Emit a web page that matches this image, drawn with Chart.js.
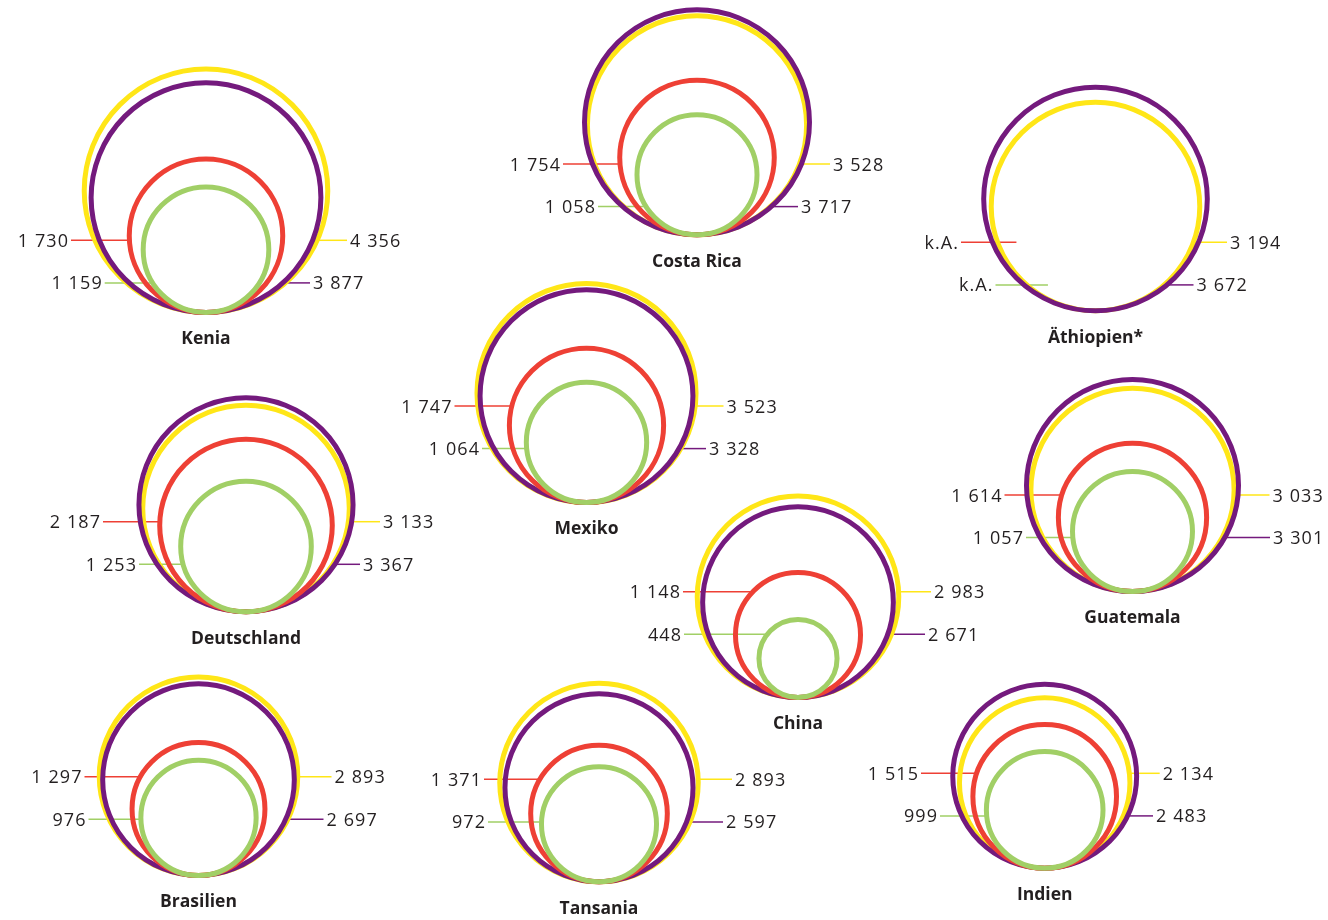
<!DOCTYPE html>
<html>
<head>
<meta charset="utf-8">
<script src="https://cdn.jsdelivr.net/npm/chart.js@4.4.1/dist/chart.umd.min.js"></script>
<style>
  html, body { margin: 0; padding: 0; background: #ffffff; }
  #wrap { width: 1328px; height: 920px; position: relative; }
</style>
</head>
<body>
<div id="wrap"><canvas id="chart"></canvas></div>
<script>
// ---------------- DATA ----------------
const countries = ['Kenia', 'Costa Rica', 'Äthiopien*', 'Mexiko', 'Deutschland',
                   'China', 'Guatemala', 'Brasilien', 'Tansania', 'Indien'];
const yellowValues = [4356, 3528, 3194, 3523, 3133, 2983, 3033, 2893, 2893, 2134];
const purpleValues = [3877, 3717, 3672, 3328, 3367, 2671, 3301, 2697, 2597, 2483];
const redValues    = [1730, 1754, null, 1747, 2187, 1148, 1614, 1297, 1371, 1515];
const greenValues  = [1159, 1058, null, 1064, 1253,  448, 1057,  976,  972,  999];
const missingLabel = 'k.A.';

// ---------------- LAYOUT (positions only) ----------------
const groupCenterX = [206, 697, 1095.5, 586.5, 246, 798, 1132.5, 198.5, 599, 1044.7];
const groupBottomY = [315, 237.3, 313.3, 505, 614.3, 700, 594, 878, 884.3, 870.7];
const labelRowY    = [240.3, 164, 242.3, 406, 521.7, 591.7, 495, 776.7, 779.3, 773.3];
const leftLabelX   = [[-138, -104.3], [-137, -102], [-137.5, -103], [-135, -107.5], [-146, -110],
                      [-118, -117], [-131, -109.5], [-117, -113], [-118, -114], [-126.7, -107.7]];
const rightLabelX  = [[144, 107], [136, 104], [134.5, 101], [140, 122.5], [137, 117],
                      [136, 130], [140, 140.5], [136, 128], [136, 127], [118, 111.3]];
const ROW_GAP = 42.6;
const NAME_OFFSET = 24.5;

// ---------------- STYLE ----------------
const COLORS = { yellow: '#FFE617', purple: '#741A7D', red: '#EE4035', green: '#A1CF66' };
const STROKE = 5;
const RADIUS_PER_SQRT = 1.845; // circle area proportional to value
const TEXT_COLOR = '#231F20';

function radiusFor(v) { return RADIUS_PER_SQRT * Math.sqrt(v); }
function fmt(v) {
  if (v === null || v === undefined) return missingLabel;
  return String(v).replace(/\B(?=(\d{3})+(?!\d))/g, ' ');
}

function bubblePoints(values) {
  const pts = [];
  values.forEach((v, i) => {
    if (v === null) return;
    const r = radiusFor(v);
    pts.push({ x: groupCenterX[i], y: groupBottomY[i] - STROKE / 2 - r, r: r, group: i, value: v });
  });
  return pts;
}

function makeDataset(label, values, color, order) {
  return {
    label: label,
    data: bubblePoints(values),
    backgroundColor: 'rgba(0,0,0,0)',
    borderColor: color,
    borderWidth: STROKE,
    hoverBorderWidth: STROKE,
    order: order,
    clip: false
  };
}

// circle x-edge at a given y (pixels); side -1 = left, +1 = right
function edgeX(cxPx, cyPx, rPx, yPx, side) {
  const dy = yPx - cyPx;
  const h = Math.abs(dy) < rPx ? Math.sqrt(rPx * rPx - dy * dy) : 0;
  return cxPx + side * h;
}

const labelPlugin = {
  id: 'circleLabels',
  beforeDatasetsDraw(chart) {
    const ctx = chart.ctx;
    const xs = chart.scales.x, ys = chart.scales.y;
    ctx.save();
    ctx.lineWidth = 1.5;
    countries.forEach((name, i) => {
      const cx = xs.getPixelForValue(groupCenterX[i]);
      const bottom = ys.getPixelForValue(groupBottomY[i]) - STROKE / 2;
      const rowYs = [ys.getPixelForValue(labelRowY[i]), ys.getPixelForValue(labelRowY[i] + ROW_GAP)];
      const maxR = Math.max(radiusFor(yellowValues[i]), radiusFor(purpleValues[i]));
      const left = [[redValues[i], COLORS.red], [greenValues[i], COLORS.green]];
      const right = [[yellowValues[i], COLORS.yellow], [purpleValues[i], COLORS.purple]];
      for (let k = 0; k < 2; k++) {
        const y = rowYs[k];
        const [lv, lc] = left[k];
        const lx = cx + leftLabelX[i][k];
        let endX;
        if (lv === null) {
          endX = edgeX(cx, bottom - maxR, maxR, y, -1) + 24;
        } else {
          const r = radiusFor(lv);
          endX = edgeX(cx, bottom - r, r, y, -1);
        }
        ctx.strokeStyle = lc;
        ctx.beginPath(); ctx.moveTo(lx + 3, y); ctx.lineTo(endX, y); ctx.stroke();
        const [rv, rc] = right[k];
        const rx = cx + rightLabelX[i][k];
        const r2 = radiusFor(rv);
        const startX = edgeX(cx, bottom - r2, r2, y, 1);
        ctx.strokeStyle = rc;
        ctx.beginPath(); ctx.moveTo(startX, y); ctx.lineTo(rx - 3, y); ctx.stroke();
      }
    });
    ctx.restore();
  },
  afterDatasetsDraw(chart) {
    const ctx = chart.ctx;
    const xs = chart.scales.x, ys = chart.scales.y;
    ctx.save();
    ctx.fillStyle = TEXT_COLOR;
    countries.forEach((name, i) => {
      const cx = xs.getPixelForValue(groupCenterX[i]);
      const rowYs = [ys.getPixelForValue(labelRowY[i]), ys.getPixelForValue(labelRowY[i] + ROW_GAP)];
      const left = [redValues[i], greenValues[i]];
      const right = [yellowValues[i], purpleValues[i]];
      ctx.font = '400 18px "Open Sans"';
      ctx.letterSpacing = '1.1px';
      ctx.textBaseline = 'alphabetic';
      for (let k = 0; k < 2; k++) {
        const base = rowYs[k] + 6.5;
        ctx.textAlign = 'right';
        ctx.fillText(fmt(left[k]), cx + leftLabelX[i][k] + 1.1, base);
        ctx.textAlign = 'left';
        ctx.fillText(fmt(right[k]), cx + rightLabelX[i][k], base);
      }
      ctx.letterSpacing = '0px';
      ctx.font = '700 17.5px "Open Sans"';
      ctx.textAlign = 'center';
      ctx.textBaseline = 'middle';
      ctx.fillText(name, cx, ys.getPixelForValue(groupBottomY[i] + NAME_OFFSET));
    });
    ctx.restore();
  }
};

new Chart(document.getElementById('chart'), {
  type: 'bubble',
  data: {
    datasets: [
      makeDataset('Gelb', yellowValues, COLORS.yellow, 4),
      makeDataset('Lila', purpleValues, COLORS.purple, 3),
      makeDataset('Rot', redValues, COLORS.red, 2),
      makeDataset('Grün', greenValues, COLORS.green, 1)
    ]
  },
  options: {
    responsive: true,
    maintainAspectRatio: false,
    animation: false,
    events: [],
    layout: { padding: 0, autoPadding: false },
    scales: {
      x: { type: 'linear', min: 0, max: 1328, display: false },
      y: { type: 'linear', min: 0, max: 920, reverse: true, display: false }
    },
    plugins: {
      legend: { display: false },
      tooltip: { enabled: false }
    }
  },
  plugins: [labelPlugin]
});
</script>
</body>
</html>
